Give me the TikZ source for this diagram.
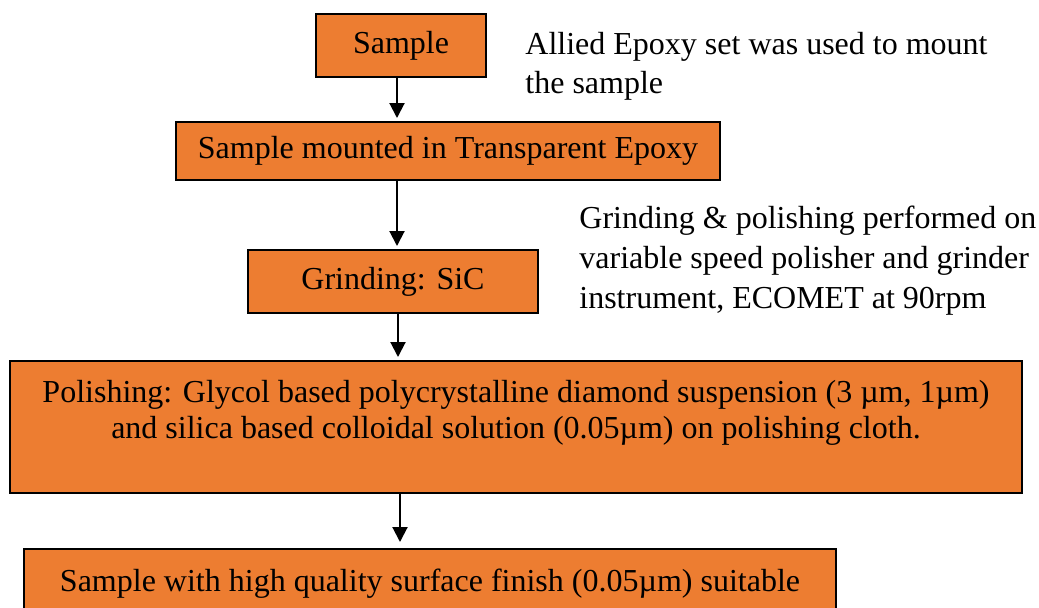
\documentclass[tikz,border=0pt]{standalone}
\usepackage{fontspec}
\setmainfont{Liberation Serif}
\usetikzlibrary{arrows.meta}
\definecolor{boxorange}{HTML}{ED7D31}
\begin{document}
\begin{tikzpicture}[x=0.5pt,y=-0.5pt,
  box/.style={draw=black, line width=1pt, fill=boxorange, inner sep=0pt, align=center, font=\fontsize{16}{18}\selectfont},
  note/.style={anchor=north west, inner sep=0pt, align=left, font=\fontsize{16}{19.5}\selectfont},
  arr/.style={line width=1pt, shorten >=1.5pt, -{Triangle[length=7.5pt,width=7.5pt]}}]
\clip (0,0) rectangle (1039,607);
\fill[white] (0,0) rectangle (1039,607);
\node[box, minimum width=85pt, minimum height=31.5pt] (sample) at (401,45.5) {Sample};
\node[box, minimum width=272pt, minimum height=29pt] (mount) at (448,151) {Sample mounted in Transparent Epoxy};
\node[box, minimum width=145pt, minimum height=31.5pt] (grind) at (393,281.5) {Grinding: SiC};
\node[box, minimum width=506pt, minimum height=66pt] (polish) at (516,427) {Polishing: Glycol based polycrystalline diamond suspension (3 µm, 1µm)\\ and silica based colloidal solution (0.05µm) on polishing cloth.\\ \mbox{}};
\node[box, minimum width=406pt, minimum height=49pt] (final) at (430,598) {Sample with high quality surface finish (0.05µm) suitable\\ \mbox{}};
\node[note] (n1) at (525,32) {Allied Epoxy set was used to mount\\the sample};
\node[note, font=\fontsize{16}{20}\selectfont] (n2) at (579,206) {Grinding \& polishing performed on\\variable speed polisher and grinder\\instrument, ECOMET at 90rpm};
\coordinate (x1) at (397,0);
\coordinate (x2) at (398,0);
\coordinate (x3) at (400,0);
\draw[arr] (sample.south -| x1) -- (mount.north -| x1);
\draw[arr] (mount.south -| x1) -- (grind.north -| x1);
\draw[arr] (grind.south -| x2) -- (polish.north -| x2);
\draw[arr, shorten >=3pt] (polish.south -| x3) -- (final.north -| x3);
\end{tikzpicture}
\end{document}
